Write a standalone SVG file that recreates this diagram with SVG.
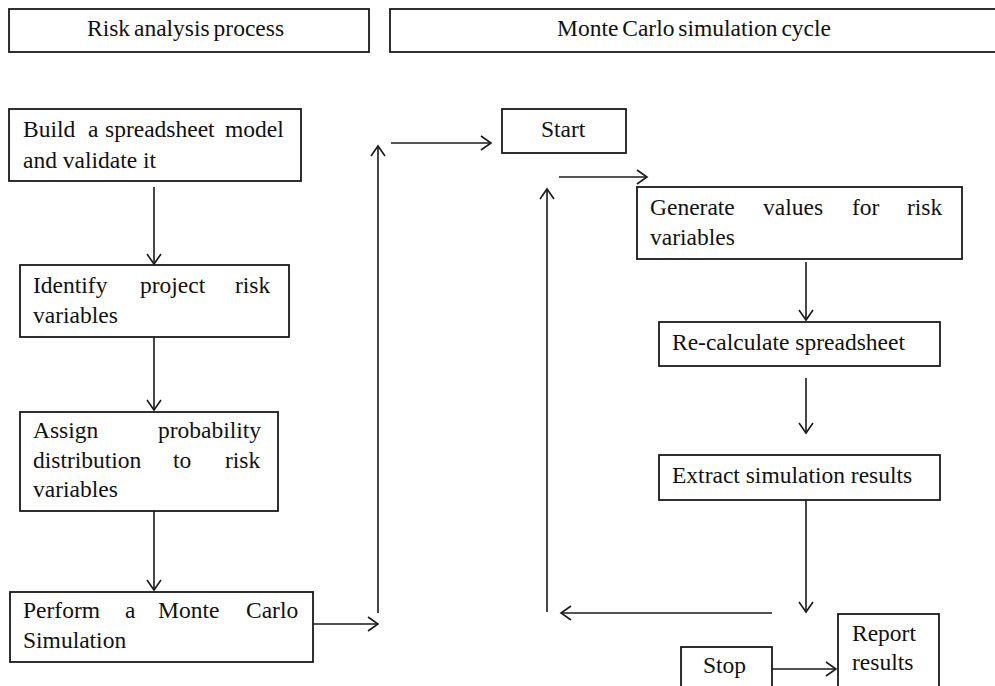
<svg xmlns="http://www.w3.org/2000/svg" width="995" height="686" viewBox="0 0 995 686">
  <style>
    .box { fill: #ffffff; stroke: #1a1a1a; stroke-width: 1.8; }
    .lbl { font-family: 'Liberation Serif', 'Times New Roman', serif; font-size: 23.5px; fill: #111111; }
    .hdr { word-spacing: -2px; }
    .wire { fill: none; stroke: #1a1a1a; stroke-width: 1.6; }
  </style>
  <defs>
    <marker id="arrow" markerUnits="userSpaceOnUse" markerWidth="16" markerHeight="20" viewBox="-12 -10 14 20" refX="0" refY="0" orient="auto">
      <path d="M-10,-7 L0,0 L-10,7" fill="none" stroke="#1a1a1a" stroke-width="1.6"/>
    </marker>
  </defs>
  <rect width="995" height="686" fill="#ffffff"/>

  <!-- column headers -->
  <g id="header-risk">
    <rect class="box" x="9" y="9" width="360" height="43"/>
    <text class="lbl hdr" x="87" y="36">Risk analysis process</text>
  </g>
  <g id="header-mc">
    <rect class="box" x="390" y="9" width="620" height="43"/>
    <text class="lbl hdr" x="557" y="36">Monte Carlo simulation cycle</text>
  </g>

  <!-- risk analysis process -->
  <g id="build-model">
    <rect class="box" x="9" y="109" width="292" height="72"/>
    <text class="lbl"><tspan x="23" y="137">Build</tspan><tspan x="88" y="137">a</tspan><tspan x="105" y="137">spreadsheet</tspan><tspan x="225" y="137">model</tspan><tspan x="23" y="168">and validate it</tspan></text>
  </g>
  <g id="identify-vars">
    <rect class="box" x="20" y="265" width="269" height="72"/>
    <text class="lbl"><tspan x="33" y="293">Identify</tspan><tspan x="140" y="293">project</tspan><tspan x="235" y="293">risk</tspan><tspan x="33" y="323">variables</tspan></text>
  </g>
  <g id="assign-dist">
    <rect class="box" x="20" y="412" width="258" height="99"/>
    <text class="lbl"><tspan x="33" y="438">Assign</tspan><tspan x="158" y="438">probability</tspan><tspan x="33" y="468">distribution</tspan><tspan x="173" y="468">to</tspan><tspan x="225" y="468">risk</tspan><tspan x="33" y="497">variables</tspan></text>
  </g>
  <g id="perform-mc">
    <rect class="box" x="10" y="592" width="303" height="70"/>
    <text class="lbl"><tspan x="23" y="618">Perform</tspan><tspan x="125" y="618">a</tspan><tspan x="158" y="618">Monte</tspan><tspan x="246" y="618">Carlo</tspan><tspan x="23" y="648">Simulation</tspan></text>
  </g>

  <!-- simulation cycle -->
  <g id="start">
    <rect class="box" x="502" y="109" width="124" height="44"/>
    <text class="lbl" x="541" y="137">Start</text>
  </g>
  <g id="generate-values">
    <rect class="box" x="637" y="187" width="325" height="72"/>
    <text class="lbl"><tspan x="650" y="215">Generate</tspan><tspan x="763" y="215">values</tspan><tspan x="852" y="215">for</tspan><tspan x="907" y="215">risk</tspan><tspan x="650" y="245">variables</tspan></text>
  </g>
  <g id="recalculate">
    <rect class="box" x="659" y="322" width="281" height="44"/>
    <text class="lbl" x="672" y="350">Re-calculate spreadsheet</text>
  </g>
  <g id="extract-results">
    <rect class="box" x="659" y="455" width="281" height="45"/>
    <text class="lbl" x="672" y="483">Extract simulation results</text>
  </g>
  <g id="report-results">
    <rect class="box" x="838" y="614" width="101" height="80"/>
    <text class="lbl"><tspan x="852" y="641">Report</tspan><tspan x="852" y="670">results</tspan></text>
  </g>
  <g id="stop">
    <rect class="box" x="681" y="647" width="91" height="50"/>
    <text class="lbl" x="703" y="673">Stop</text>
  </g>

  <!-- connectors -->
  <g id="connectors">
    <line class="wire" x1="154" y1="187" x2="154" y2="264" marker-end="url(#arrow)"/>
    <line class="wire" x1="154" y1="337" x2="154" y2="410" marker-end="url(#arrow)"/>
    <line class="wire" x1="154" y1="511" x2="154" y2="590" marker-end="url(#arrow)"/>
    <line class="wire" x1="313" y1="624" x2="378" y2="624" marker-end="url(#arrow)"/>
    <line class="wire" x1="378" y1="613" x2="378" y2="146" marker-end="url(#arrow)"/>
    <line class="wire" x1="391" y1="143" x2="491" y2="143" marker-end="url(#arrow)"/>
    <line class="wire" x1="559" y1="177" x2="647" y2="177" marker-end="url(#arrow)"/>
    <line class="wire" x1="547" y1="612" x2="547" y2="189" marker-end="url(#arrow)"/>
    <line class="wire" x1="806" y1="262" x2="806" y2="320" marker-end="url(#arrow)"/>
    <line class="wire" x1="806" y1="378" x2="806" y2="433" marker-end="url(#arrow)"/>
    <line class="wire" x1="806" y1="500" x2="806" y2="612" marker-end="url(#arrow)"/>
    <line class="wire" x1="772" y1="613" x2="561" y2="613" marker-end="url(#arrow)"/>
    <line class="wire" x1="772" y1="669" x2="836" y2="669" marker-end="url(#arrow)"/>
  </g>
</svg>
